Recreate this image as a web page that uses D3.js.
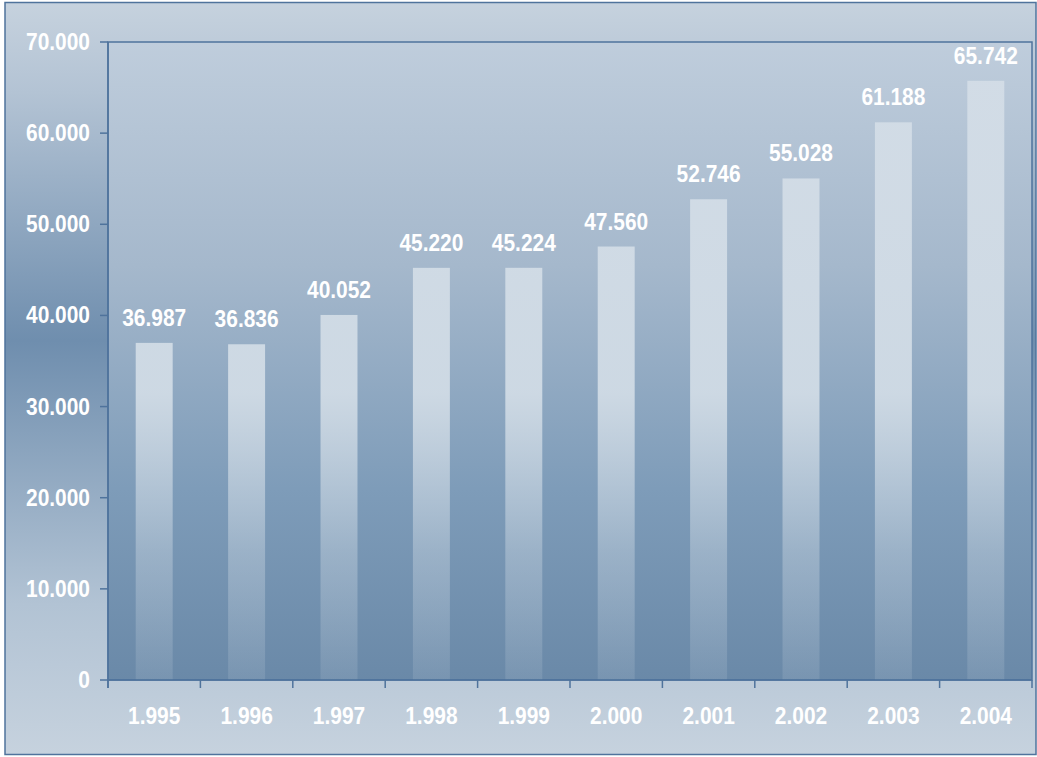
<!DOCTYPE html>
<html>
<head>
<meta charset="utf-8">
<script src="https://cdn.jsdelivr.net/npm/d3@7"></script>
<style>
  html, body { margin: 0; padding: 0; background: #ffffff; }
  svg { display: block; }
  .lbl { font-family: "Liberation Sans", Arial, sans-serif; font-weight: bold; fill: #ffffff; }
</style>
</head>
<body>
<div id="chart"></div>
<script>
// Data
const years = ["1.995", "1.996", "1.997", "1.998", "1.999", "2.000", "2.001", "2.002", "2.003", "2.004"];
const values = [36987, 36836, 40052, 45220, 45224, 47560, 52746, 55028, 61188, 65742];
const valueLabels = ["36.987", "36.836", "40.052", "45.220", "45.224", "47.560", "52.746", "55.028", "61.188", "65.742"];
const yTicks = [0, 10000, 20000, 30000, 40000, 50000, 60000, 70000];
const yTickLabels = ["0", "10.000", "20.000", "30.000", "40.000", "50.000", "60.000", "70.000"];

// Layout
const W = 1037, H = 757;
const PLOT = { left: 108, right: 1032, top: 42, bottom: 680 };
const AXIS_COLOR = "#4f739c";
const FONT_SIZE = 23;
const NARROW = 0.91; // squeeze the text horizontally, like the condensed original

const svg = d3.select("#chart").append("svg")
    .attr("width", W)
    .attr("height", H);

const defs = svg.append("defs");

// Outer panel gradient: light at top and bottom, darker in the middle
const outerGrad = defs.append("linearGradient")
    .attr("id", "outerGrad")
    .attr("x1", 0).attr("y1", 0).attr("x2", 0).attr("y2", 1);
outerGrad.append("stop").attr("offset", "0%").attr("stop-color", "#c6d2de");
outerGrad.append("stop").attr("offset", "12%").attr("stop-color", "#b3c3d4");
outerGrad.append("stop").attr("offset", "45%").attr("stop-color", "#6f8eae");
outerGrad.append("stop").attr("offset", "80%").attr("stop-color", "#b2c3d4");
outerGrad.append("stop").attr("offset", "100%").attr("stop-color", "#c6d2de");

// Plot background gradient
const plotGrad = defs.append("linearGradient")
    .attr("id", "plotGrad")
    .attr("x1", 0).attr("y1", 0).attr("x2", 0).attr("y2", 1);
plotGrad.append("stop").attr("offset", "0%").attr("stop-color", "#bfcddc");
plotGrad.append("stop").attr("offset", "35%").attr("stop-color", "#a5b8cc");
plotGrad.append("stop").attr("offset", "70%").attr("stop-color", "#7e9cb9");
plotGrad.append("stop").attr("offset", "100%").attr("stop-color", "#6a89a8");

// Bar gradient, in absolute plot coords so every bar fades the same way
const barGrad = defs.append("linearGradient")
    .attr("id", "barGrad")
    .attr("gradientUnits", "userSpaceOnUse")
    .attr("x1", 0).attr("y1", PLOT.top).attr("x2", 0).attr("y2", PLOT.bottom);
barGrad.append("stop").attr("offset", "0%").attr("stop-color", "#d2dce6").attr("stop-opacity", 1);
barGrad.append("stop").attr("offset", "55%").attr("stop-color", "#d0dbe5").attr("stop-opacity", 0.95);
barGrad.append("stop").attr("offset", "80%").attr("stop-color", "#d0dbe5").attr("stop-opacity", 0.4);
barGrad.append("stop").attr("offset", "100%").attr("stop-color", "#d0dbe5").attr("stop-opacity", 0.14);

// Outer panel
svg.append("rect")
    .attr("x", 5).attr("y", 2.5)
    .attr("width", W - 6).attr("height", 752)
    .attr("fill", "url(#outerGrad)")
    .attr("stroke", AXIS_COLOR)
    .attr("stroke-width", 1.5);

// Scales
const x = d3.scaleBand()
    .domain(years)
    .range([PLOT.left, PLOT.right])
    .paddingInner(0.6)
    .paddingOuter(0.3);

const xBand = d3.scaleBand()
    .domain(years)
    .range([PLOT.left, PLOT.right]);

const y = d3.scaleLinear()
    .domain([0, 70000])
    .range([PLOT.bottom, PLOT.top]);

// helper: place a narrow label at (px, py)
function narrow(px, py) {
    return `translate(${px},${py}) scale(${NARROW},1)`;
}

// Plot area
svg.append("rect")
    .attr("x", PLOT.left).attr("y", PLOT.top)
    .attr("width", PLOT.right - PLOT.left)
    .attr("height", PLOT.bottom - PLOT.top)
    .attr("fill", "url(#plotGrad)")
    .attr("stroke", AXIS_COLOR)
    .attr("stroke-width", 1.5);

// Bars
svg.selectAll("rect.bar")
    .data(values)
    .join("rect")
    .attr("class", "bar")
    .attr("x", (d, i) => x(years[i]))
    .attr("y", d => y(d))
    .attr("width", x.bandwidth())
    .attr("height", d => y(0) - y(d))
    .attr("fill", "url(#barGrad)");

// Value labels
svg.selectAll("text.val")
    .data(values)
    .join("text")
    .attr("class", "lbl val")
    .attr("transform", (d, i) => narrow(x(years[i]) + x.bandwidth() / 2, y(d) - 17))
    .attr("text-anchor", "middle")
    .attr("font-size", FONT_SIZE)
    .text((d, i) => valueLabels[i]);

// Y axis ticks
svg.selectAll("line.ytick")
    .data(yTicks)
    .join("line")
    .attr("class", "ytick")
    .attr("x1", PLOT.left - 8).attr("x2", PLOT.left)
    .attr("y1", d => y(d)).attr("y2", d => y(d))
    .attr("stroke", AXIS_COLOR).attr("stroke-width", 1.5);

svg.selectAll("text.ylab")
    .data(yTicks)
    .join("text")
    .attr("class", "lbl ylab")
    .attr("transform", d => narrow(PLOT.left - 18, y(d) + 8))
    .attr("text-anchor", "end")
    .attr("font-size", FONT_SIZE)
    .text((d, i) => yTickLabels[i]);

// Y axis line extends a bit below zero
svg.append("line")
    .attr("x1", PLOT.left).attr("x2", PLOT.left)
    .attr("y1", PLOT.top).attr("y2", PLOT.bottom + 8)
    .attr("stroke", AXIS_COLOR).attr("stroke-width", 1.5);

// X axis: ticks at band boundaries
const boundaries = years.map(d => xBand(d)).concat([PLOT.right]);
svg.selectAll("line.xtick")
    .data(boundaries)
    .join("line")
    .attr("class", "xtick")
    .attr("x1", d => d).attr("x2", d => d)
    .attr("y1", PLOT.bottom).attr("y2", PLOT.bottom + 8)
    .attr("stroke", AXIS_COLOR).attr("stroke-width", 1.5);

svg.append("line")
    .attr("x1", PLOT.left).attr("x2", PLOT.right)
    .attr("y1", PLOT.bottom).attr("y2", PLOT.bottom)
    .attr("stroke", AXIS_COLOR).attr("stroke-width", 1.5);

svg.selectAll("text.xlab")
    .data(years)
    .join("text")
    .attr("class", "lbl xlab")
    .attr("transform", d => narrow(xBand(d) + xBand.bandwidth() / 2, 724))
    .attr("text-anchor", "middle")
    .attr("font-size", FONT_SIZE)
    .text(d => d);
</script>
</body>
</html>
